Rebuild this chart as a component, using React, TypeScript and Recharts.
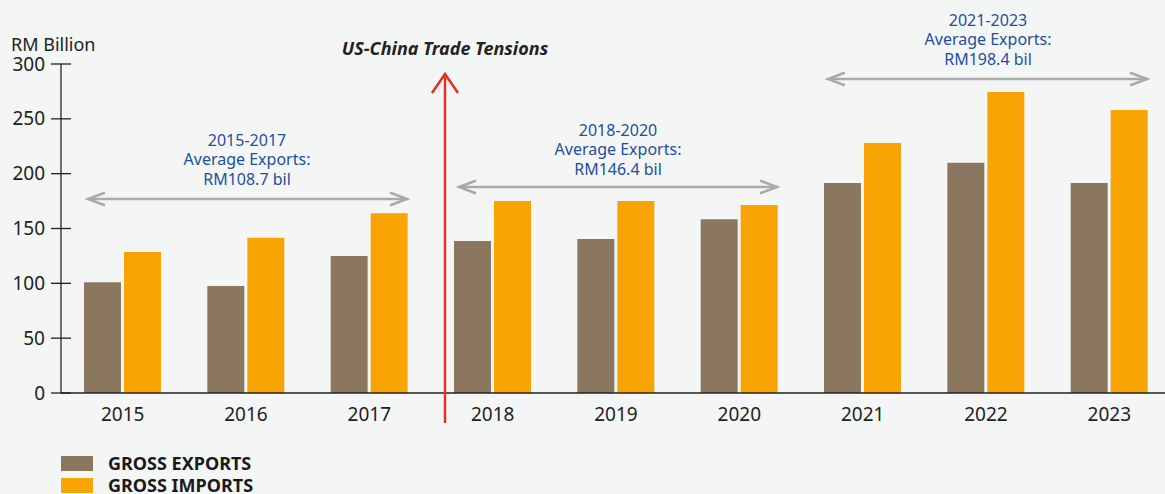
import React from 'react'
import { BarChart, Bar, XAxis, YAxis } from 'recharts'

const years = ['2015', '2016', '2017', '2018', '2019', '2020', '2021', '2022', '2023']
const grossExports = [101, 97.5, 125, 138.5, 140.5, 158.5, 191.5, 210, 191.5]
const grossImports = [128.5, 141.5, 164, 175, 175, 171.5, 228, 274.5, 258]
const yTicks = [0, 50, 100, 150, 200, 250, 300]

const periodNotes = [
    { lines: ['2015-2017', 'Average Exports:', 'RM108.7 bil'], cx: 247, top: 140, x1: 88, x2: 407, y: 199 },
    { lines: ['2018-2020', 'Average Exports:', 'RM146.4 bil'], cx: 618, top: 130, x1: 459, x2: 777, y: 187 },
    { lines: ['2021-2023', 'Average Exports:', 'RM198.4 bil'], cx: 988, top: 20, x1: 828, x2: 1147, y: 79 },
]

const legendItems = [
    { label: 'GROSS EXPORTS', color: '#8b7760' },
    { label: 'GROSS IMPORTS', color: '#f9a405' },
]

const data = years.map((year, i) => ({
    year,
    exports: grossExports[i],
    imports: grossImports[i],
}))

const FONT = '"Noto Sans", "Open Sans", sans-serif'
const AXIS_X = 61

const YTick = (props: any) => {
    const { x, y, payload } = props
    return (
        <g>
            <line x1={AXIS_X - 10} x2={AXIS_X + 10} y1={y} y2={y} stroke="#222" strokeWidth={1.3} />
            <text x={x} y={y} dy="0.35em" textAnchor="end" fontSize={19} fill="#222" fontFamily={FONT}>
                {payload.value}
            </text>
        </g>
    )
}

const Arrow = ({ x1, x2, y }: { x1: number; x2: number; y: number }) => (
    <g stroke="#aaaaaa" strokeWidth={2.5} fill="none" strokeLinecap="round">
        <line x1={x1} x2={x2} y1={y} y2={y} />
        <polyline points={`${x1 + 16},${y - 6} ${x1},${y} ${x1 + 16},${y + 6}`} />
        <polyline points={`${x2 - 16},${y - 6} ${x2},${y} ${x2 - 16},${y + 6}`} />
    </g>
)

export default function App() {
    return (
        <div style={{ position: 'relative', width: 1165, height: 494, background: '#f4f6f6', overflow: 'hidden' }}>
            <style>{`body{margin:0;overflow:hidden;background:#f4f6f6}`}</style>
            <BarChart
                width={1175}
                height={494}
                data={data}
                margin={{ top: 64, right: 4, left: 0, bottom: 71 }}
                barSize={37}
                barGap={3}
            >
                <XAxis
                    dataKey="year"
                    tickLine={false}
                    tickSize={0}
                    tickMargin={15}
                    height={30}
                    axisLine={{ stroke: '#222', strokeWidth: 1.5 }}
                    tick={{ fontSize: 19, fill: '#222', fontFamily: FONT }}
                />
                <YAxis
                    width={61}
                    domain={[0, 300]}
                    ticks={yTicks}
                    tickLine={false}
                    tickSize={10}
                    tickMargin={6}
                    axisLine={{ stroke: '#222', strokeWidth: 1.3 }}
                    tick={<YTick />}
                />
                <Bar dataKey="exports" name="GROSS EXPORTS" fill={legendItems[0].color} isAnimationActive={false} />
                <Bar dataKey="imports" name="GROSS IMPORTS" fill={legendItems[1].color} isAnimationActive={false} />
            </BarChart>
            <div
                style={{
                    position: 'absolute', left: 61, top: 452, fontFamily: FONT,
                    fontWeight: 700, fontSize: 18, color: '#1a1a1a', lineHeight: '22px',
                }}
            >
                {legendItems.map((item) => (
                    <div key={item.label} style={{ display: 'flex', alignItems: 'center', height: 22 }}>
                        <span style={{ width: 32, height: 15, background: item.color, display: 'inline-block', marginRight: 15 }} />
                        <span>{item.label}</span>
                    </div>
                ))}
            </div>
            <svg
                width={1165}
                height={494}
                style={{ position: 'absolute', left: 0, top: 0, pointerEvents: 'none' }}
            >
                <text x={11} y={51} fontSize={18} fill="#222" fontFamily={FONT}>RM Billion</text>
                <text x={445} y={55} fontSize={18} fontWeight={700} fontStyle="italic" fill="#222" textAnchor="middle" fontFamily={FONT}>
                    US-China Trade Tensions
                </text>
                <g stroke="#e3321f" strokeWidth={2.5} fill="none">
                    <line x1={445} x2={445} y1={74} y2={423} />
                    <polyline points="432,93 445,74 458,93" />
                </g>
                {periodNotes.map((note) => (
                    <g key={note.lines[0]}>
                        {note.lines.map((line, i) => (
                            <text
                                key={line}
                                x={note.cx}
                                y={note.top + i * 19.5}
                                dy="0.35em"
                                textAnchor="middle"
                                fontSize={16}
                                fill="#1f4e9c"
                                fontFamily={FONT}
                            >
                                {line}
                            </text>
                        ))}
                        <Arrow x1={note.x1} x2={note.x2} y={note.y} />
                    </g>
                ))}
            </svg>
        </div>
    )
}
